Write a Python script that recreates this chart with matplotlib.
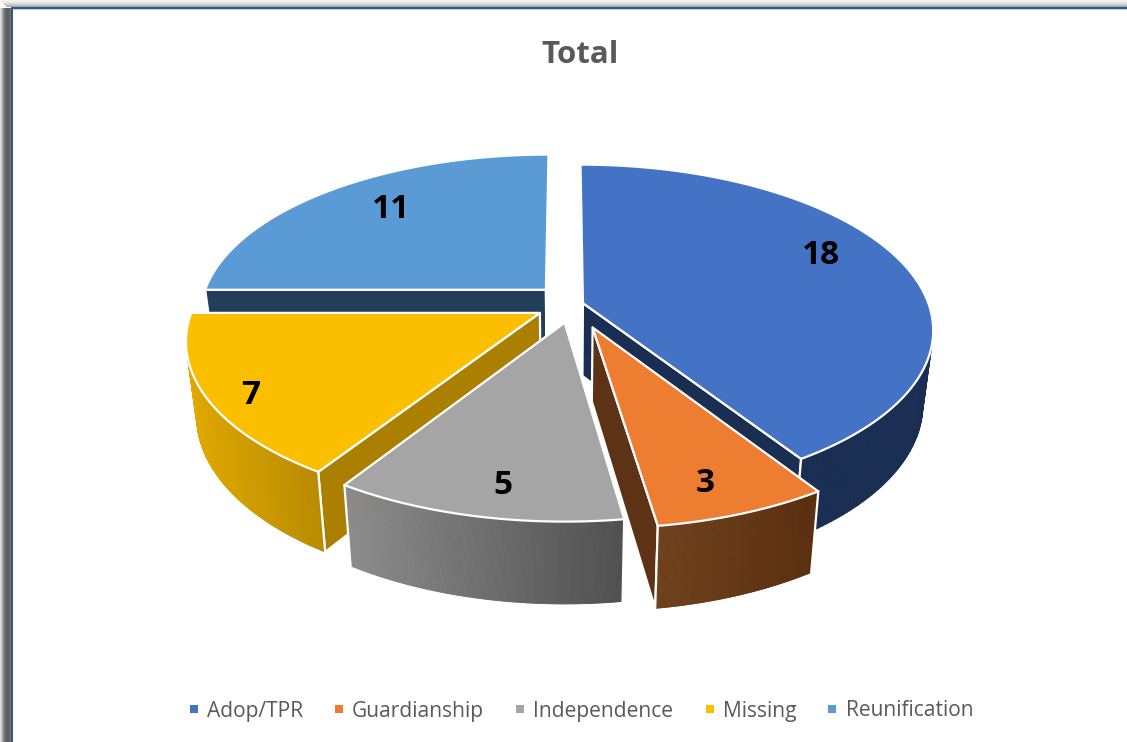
import numpy as np
import matplotlib
matplotlib.use("Agg")
import matplotlib.pyplot as plt
from matplotlib.collections import PolyCollection
from matplotlib.lines import Line2D
from matplotlib.patches import Polygon, Rectangle
from matplotlib.colors import to_rgb

categories = ["Adop/TPR", "Guardianship", "Independence", "Missing", "Reunification"]
values = [18, 3, 5, 7, 11]
title = "Total"

# styles
top_colors = ["#4472C4", "#ED7D31", "#A5A5A5", "#FBBF00", "#5B9BD5"]
legend_colors = top_colors
wall_left = ["#1A2D52", "#70401C", "#8C8C8C", "#E0A900", "#223F57"]
wall_right = ["#1A2D52", "#5A3010", "#4F4F4F", "#B88A00", "#223F57"]
face_colors = ["#1A2D52", "#5E3214", "#606060", "#AB8000", "#223F57"]
offset_x = [0.052, 0.078, -0.001, -0.072, -0.056]
offset_y = [0.030, -0.118, -0.090, -0.030, 0.115]
label_pos = [(821, 255), (705, 483), (503, 485), (251, 395), (391, 209)]
draw_order = [4, 0, 3, 1, 2]

CX, CY, A, B, K, H, SHRINK = 565, 308, 347, 162, 0.159, 73, 0.972


def project(x, y, bottom=False):
    s = 1 / (1 + K * y)
    f = SHRINK if bottom else 1
    return CX + A * x * s * f, CY - B * y * s * f + (H * s if bottom else 0)


def signed_area(pts):
    p = np.asarray(pts)
    return np.sum(p[:, 0] * np.roll(p[:, 1], -1) - np.roll(p[:, 0], -1) * p[:, 1])


fig = plt.figure(figsize=(11.27, 7.42), dpi=100, facecolor="white")
ax = fig.add_axes([0, 0, 1, 1])
ax.set_xlim(0, 1127)
ax.set_ylim(742, 0)
ax.axis("off")

# window shadow and border
left_gray = ["#E0E0E0", "#C8C8C8", "#A8A8A8", "#8C8C8C", "#747474", "#666666",
             "#606060", "#5E5E5E", "#606060", "#666666", "#707070"]
for i, c in enumerate(left_gray):
    ax.add_patch(Rectangle((i, 8), 1, 734, fc=c, ec="none", zorder=1))
top_gray = ["#F4F4F4", "#EEEEEE", "#E6E6E6", "#DCDCDC", "#D0D0D0", "#C0C0C0", "#A8A8A8"]
for i, c in enumerate(top_gray):
    ax.add_patch(Rectangle((min(i, 6), i), 1127, 1, fc=c, ec="none", zorder=1))
ax.add_patch(Rectangle((11, 7), 2.2, 735, fc="#2B5C8C", ec="none", zorder=2))
ax.add_patch(Rectangle((11, 7), 1116, 2, fc="#2B5C8C", ec="none", zorder=2))
ax.add_patch(Rectangle((13, 9), 1114, 1, fc="#BCD4E8", ec="none", zorder=2))

total = sum(values)
edges = np.concatenate([[0], np.cumsum(values)]) / total * 2 * np.pi
W = dict(ec="white", lw=1.6, joinstyle="round")
z = 5
for i in draw_order:
    t0, t1 = edges[i], edges[i + 1]
    th = np.linspace(t0, t1, 160)
    ox, oy = offset_x[i], offset_y[i]
    rx, ry = ox + np.sin(th), oy + np.cos(th)
    tx, ty = project(rx, ry)
    bx, by = project(rx, ry, True)
    ax0, ay0 = project(ox, oy)
    bx0, by0 = project(ox, oy, True)

    # radial faces that look towards the viewer
    for j, sign in ((0, -1), (-1, 1)):
        pts = [(ax0, ay0), (tx[j], ty[j]), (bx[j], by[j]), (bx0, by0)]
        if signed_area(pts) * sign > 0:
            ax.add_patch(Polygon(pts, closed=True, fc=face_colors[i], zorder=z, **W))
    z += 1
    # outer wall, shaded across its width, only where it faces the viewer
    quads, cols, keep = [], [], []
    c0, c1 = np.array(to_rgb(wall_left[i])), np.array(to_rgb(wall_right[i]))
    lo, hi = tx.min(), tx.max()
    for k in range(len(th) - 1):
        q = [(tx[k], ty[k]), (tx[k + 1], ty[k + 1]), (bx[k + 1], by[k + 1]), (bx[k], by[k])]
        if signed_area(q) < 0:
            quads.append(q)
            u = (0.5 * (tx[k] + tx[k + 1]) - lo) / max(hi - lo, 1)
            cols.append(c0 + (c1 - c0) * u)
            keep.append(k)
    if quads:
        ax.add_collection(PolyCollection(quads, facecolors=cols, edgecolors=cols, linewidths=0.6, zorder=z))
        z += 1
        first, last = keep[0], keep[-1] + 1
        for j in (first, last):
            if j in (0, len(th) - 1):
                ax.plot([tx[j], bx[j]], [ty[j], by[j]], color="white", lw=1.6, zorder=z)
    z += 1
    # top surface
    top = np.column_stack([np.r_[ax0, tx], np.r_[ay0, ty]])
    ax.add_patch(Polygon(top, closed=True, fc=top_colors[i], zorder=z, **W))
    z += 1

for v, (lx, ly) in zip(values, label_pos):
    ax.text(lx, ly, str(v), ha="center", va="center", fontsize=24, fontweight="bold",
            family="Open Sans", color="black", zorder=100)

ax.text(580, 55, title, ha="center", va="center", fontsize=22.5, fontweight="bold",
        family="Open Sans", color="#595959", zorder=100)

handles = [Line2D([], [], ls="none", marker="s", ms=5.6, mfc=c, mec=c, mew=0) for c in legend_colors]
leg = fig.legend(handles, categories, ncol=5, loc="center", bbox_to_anchor=(581 / 1127, 1 - 711 / 742),
                 frameon=False, handlelength=0.45, handletextpad=0.4, columnspacing=1.5,
                 borderpad=0, prop={"family": "Open Sans", "size": 15.1})
for t in leg.get_texts():
    t.set_color("#595959")

fig.savefig("out.png", dpi=100)
